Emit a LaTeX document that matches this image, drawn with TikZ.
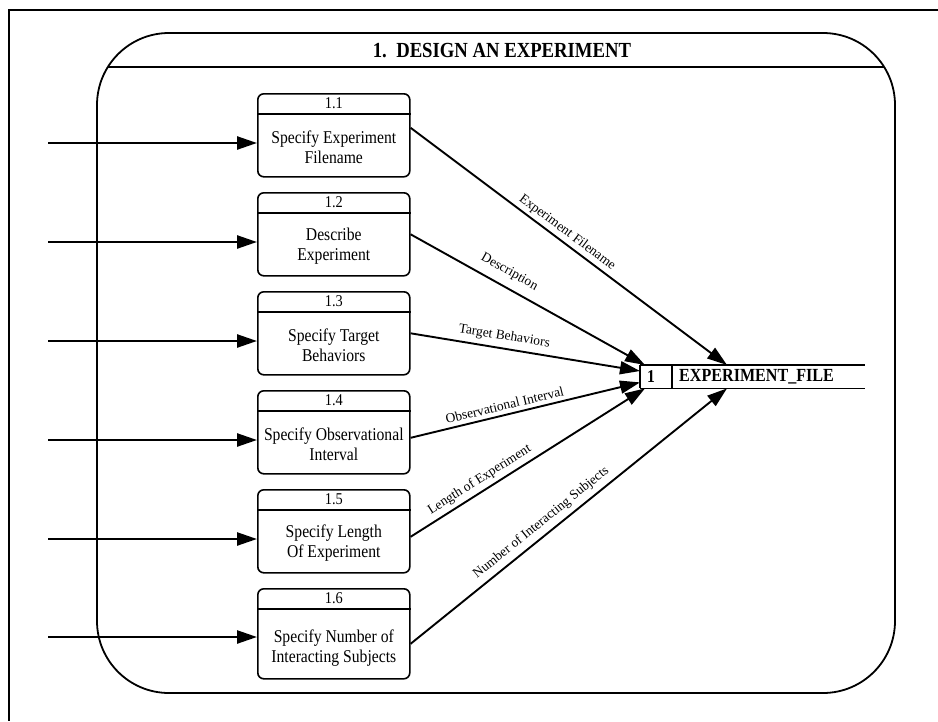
\documentclass[tikz,border=0pt]{standalone}
\usepackage{fontspec}
\setmainfont{Liberation Serif}[FakeStretch=0.87]
\newfontfamily\flowfont{Liberation Serif}
\usetikzlibrary{arrows.meta,calc}

\begin{document}
\begin{tikzpicture}[x=1pt,y=-1pt,
  frame/.style={line width=1.8pt},
  procbox/.style={draw, line width=1.6pt, rounded corners=6pt, minimum width=152pt,
    minimum height=83pt, inner sep=0pt, anchor=north west},
  divider/.style={line width=1.6pt},
  boxnum/.style={font=\fontsize{16.5}{18}\selectfont, inner sep=0pt},
  boxtext/.style={font=\fontsize{18}{20.5}\selectfont, align=center, inner sep=0pt},
  inflow/.style={line width=2.5pt, -{Triangle[length=20pt,width=13pt]}},
  outflow/.style={line width=1.9pt, -{Triangle[length=20pt,width=13pt]}},
  flowlabel/.style={font=\flowfont\fontsize{13.5}{15}\selectfont, sloped, inner sep=0pt},
  storeline/.style={line width=1.8pt},
]
\useasboundingbox (0,0) rectangle (938,721);

% page border (top and left edges)
\draw[frame] (8,10) -- (938,10);
\draw[frame] (9,10) -- (9,721);

% process group outline with title band
\draw[line width=1.8pt, rounded corners=72pt] (97,33) rectangle (895,693);
\begin{scope}
  \clip[rounded corners=72pt] (97,33) rectangle (895,693);
  \draw[line width=1.8pt] (97,67) -- (895,67);
\end{scope}
\node[font=\fontsize{21.5}{23}\selectfont\bfseries, inner sep=0pt] (title) at (502,51)
  {1.\ \ DESIGN AN EXPERIMENT};

% processes
\node[procbox] (p1) at (257,93) {};
\node[procbox] (p2) at (257,192) {};
\node[procbox] (p3) at (257,291) {};
\node[procbox] (p4) at (257,390) {};
\node[procbox] (p5) at (257,489) {};
\node[procbox, minimum height=90pt] (p6) at (257,588) {};

\foreach \p in {p1,p2,p3,p4,p5,p6}
  \draw[divider] ([yshift=-21pt]\p.north west) -- ([yshift=-21pt]\p.north east);

\node[boxnum] (n1) at ([yshift=-10.5pt]p1.north) {1.1};
\node[boxnum] (n2) at ([yshift=-10.5pt]p2.north) {1.2};
\node[boxnum] (n3) at ([yshift=-10.5pt]p3.north) {1.3};
\node[boxnum] (n4) at ([yshift=-10.5pt]p4.north) {1.4};
\node[boxnum] (n5) at ([yshift=-10.5pt]p5.north) {1.5};
\node[boxnum] (n6) at ([yshift=-10.5pt]p6.north) {1.6};

\node[boxtext] (t1) at ([yshift=-54pt]p1.north) {Specify Experiment\\Filename};
\node[boxtext] (t2) at ([yshift=-54pt]p2.north) {Describe\\Experiment};
\node[boxtext] (t3) at ([yshift=-54pt]p3.north) {Specify Target\\Behaviors};
\node[boxtext] (t4) at ([yshift=-54pt]p4.north) {Specify Observational\\Interval};
\node[boxtext] (t5) at ([yshift=-54pt]p5.north) {Specify Length\\Of Experiment};
\node[boxtext] (t6) at ([yshift=-60pt]p6.north) {Specify Number of\\Interacting Subjects};

% data store
\node[inner sep=0pt, minimum width=225pt, minimum height=23pt, anchor=north west]
  (store) at (640,365) {};
\draw[storeline] (store.north west) -- (store.north east);
\draw[storeline] (store.south west) -- (store.south east);
\draw[storeline] (store.north west) -- (store.south west);
\draw[storeline] ([xshift=32pt]store.north west) -- ([xshift=32pt]store.south west);
\node[font=\fontsize{18}{19}\selectfont\bfseries, inner sep=0pt] (snum)
  at ([xshift=11pt]store.west) {1};
\node[font=\fontsize{18.5}{19}\selectfont\bfseries, inner sep=0pt, anchor=west] (sname)
  at ([xshift=39pt]store.west) {EXPERIMENT\_FILE};

% incoming flows
\coordinate (src1) at (48,143);
\coordinate (src2) at (48,242);
\coordinate (src3) at (48,341);
\coordinate (src4) at (48,440);
\coordinate (src5) at (48,539);
\coordinate (src6) at (48,637);
\draw[inflow] (src1) -- (src1 -| p1.west);
\draw[inflow] (src2) -- (src2 -| p2.west);
\draw[inflow] (src3) -- (src3 -| p3.west);
\draw[inflow] (src4) -- (src4 -| p4.west);
\draw[inflow] (src5) -- (src5 -| p5.west);
\draw[inflow] (src6) -- (src6 -| p6.west);

% flows into the store
\draw[outflow] ([yshift=7.5pt]p1.east) -- ([xshift=87pt]store.north west)
  node[flowlabel, pos=0.476, above=3pt] {Experiment Filename};
\draw[outflow] (p2.east) -- ([xshift=5pt]store.north west)
  node[flowlabel, pos=0.39, above=8pt] {Description};
\draw[outflow] (p3.east) -- ([yshift=-6pt]store.north west)
  node[flowlabel, pos=0.40, above=5pt] {Target Behaviors};
\draw[outflow] ([yshift=-5.5pt]p4.east) -- ([yshift=6pt]store.south west)
  node[flowlabel, pos=0.42, above=4pt] {Observational Interval};
\draw[outflow] ([yshift=-5.5pt]p5.east) -- ([xshift=5pt]store.south west)
  node[flowlabel, pos=0.32, above=4pt] {Length of Experiment};
\draw[outflow] ([yshift=-10pt]p6.east) -- ([xshift=87pt]store.south west)
  node[flowlabel, pos=0.437, above=5pt] {Number of Interacting Subjects};
\end{tikzpicture}
\end{document}
